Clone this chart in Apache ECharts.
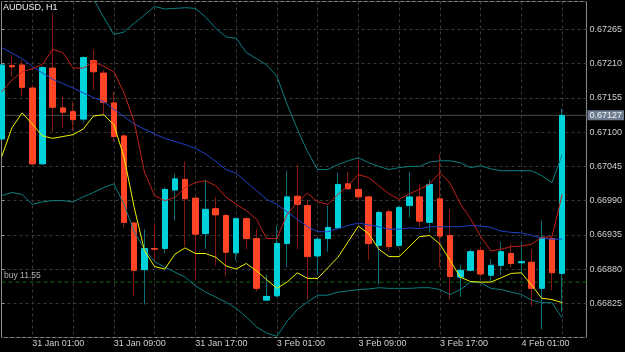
<!DOCTYPE html>
<html><head><meta charset="utf-8">
<script src="https://cdn.jsdelivr.net/npm/echarts@6/dist/echarts.min.js"></script>
<style>html,body{margin:0;padding:0;background:#000;}#c{width:625px;height:352px;}</style>
</head><body><div id="c"></div>
<script>
const symbolTitle = 'AUDUSD, H1';
const times = [
 '30 Jan 22:00','30 Jan 23:00','31 Jan 00:00','31 Jan 01:00','31 Jan 02:00','31 Jan 03:00','31 Jan 04:00','31 Jan 05:00',
 '31 Jan 06:00','31 Jan 07:00','31 Jan 08:00','31 Jan 09:00','31 Jan 10:00','31 Jan 11:00','31 Jan 12:00','31 Jan 13:00',
 '31 Jan 14:00','31 Jan 15:00','31 Jan 16:00','31 Jan 17:00','31 Jan 18:00','31 Jan 19:00','31 Jan 20:00','31 Jan 21:00',
 '31 Jan 22:00','31 Jan 23:00','3 Feb 00:00','3 Feb 01:00','3 Feb 02:00','3 Feb 03:00','3 Feb 04:00','3 Feb 05:00',
 '3 Feb 06:00','3 Feb 07:00','3 Feb 08:00','3 Feb 09:00','3 Feb 10:00','3 Feb 11:00','3 Feb 12:00','3 Feb 13:00',
 '3 Feb 14:00','3 Feb 15:00','3 Feb 16:00','3 Feb 17:00','3 Feb 18:00','3 Feb 19:00','3 Feb 20:00','3 Feb 21:00',
 '3 Feb 22:00','3 Feb 23:00','4 Feb 00:00','4 Feb 01:00','4 Feb 02:00','4 Feb 03:00','4 Feb 04:00','4 Feb 05:00'];
const open = [0.67089,0.67207,0.67208,0.67171,0.67049,0.67203,0.67139,0.67133,0.67121,0.67215,0.67195,0.67147,0.67094,0.66954,0.66879,0.66913,
 0.66913,0.67007,0.67024,0.66994,0.66937,0.66977,0.66966,0.66906,0.66961,0.66929,0.66830,0.66837,0.66921,0.66997,0.66982,0.66901,
 0.66929,0.66946,0.67017,0.67008,0.66996,0.66918,0.66972,0.66918,0.66982,0.66996,0.66955,0.66993,0.66934,0.66867,0.66878,0.66910,
 0.66870,0.66886,0.66905,0.66890,0.66891,0.66849,0.66929,0.66873];
const close = [0.67208,0.67205,0.67172,0.67049,0.67204,0.67140,0.67132,0.67120,0.67220,0.67197,0.67148,0.67093,0.66955,0.66878,0.66913,0.66912,
 0.67008,0.67025,0.66993,0.66936,0.66976,0.66967,0.66907,0.66961,0.66929,0.66849,0.66836,0.66921,0.66996,0.66984,0.66900,0.66928,
 0.66947,0.67016,0.67009,0.66996,0.66921,0.66971,0.66916,0.66979,0.66996,0.66957,0.67016,0.66933,0.66868,0.66878,0.66908,0.66872,
 0.66886,0.66908,0.66889,0.66892,0.66849,0.66931,0.66874,0.67127];
const high = [0.67210,0.67224,0.67216,0.67176,0.67206,0.67291,0.67157,0.67149,0.67222,0.67232,0.67200,0.67165,0.67097,0.66956,0.66944,0.66953,
 0.67011,0.67033,0.67053,0.66996,0.67024,0.66996,0.66969,0.66963,0.66963,0.66945,0.66871,0.66950,0.67038,0.67048,0.66992,0.66931,
 0.66982,0.67035,0.67036,0.67056,0.66998,0.66974,0.66976,0.66982,0.67036,0.67017,0.67024,0.67065,0.66976,0.66887,0.66912,0.66916,
 0.66896,0.66924,0.66921,0.66924,0.66912,0.66958,0.66931,0.67138];
const low = [0.67086,0.67189,0.67157,0.67048,0.67048,0.67101,0.67107,0.67102,0.67115,0.67168,0.67128,0.67085,0.66947,0.66837,0.66823,0.66892,
 0.66905,0.66958,0.66916,0.66863,0.66912,0.66886,0.66868,0.66894,0.66912,0.66844,0.66829,0.66835,0.66883,0.66912,0.66831,0.66871,
 0.66908,0.66944,0.67008,0.66992,0.66895,0.66855,0.66908,0.66915,0.66963,0.66947,0.66939,0.66883,0.66831,0.66835,0.66876,0.66868,
 0.66860,0.66870,0.66883,0.66871,0.66820,0.66783,0.66846,0.66811];
const bbUpper = [null,null,null,null,null,null,null,null,0.67331,0.67314,0.67285,0.67257,0.67261,0.67275,0.67288,0.67302,
 0.67298,0.67299,0.67300,0.67299,0.67285,0.67267,0.67253,0.67251,0.67228,0.67218,0.67208,0.67190,0.67145,0.67105,0.67069,0.67040,
 0.67040,0.67048,0.67054,0.67059,0.67051,0.67045,0.67040,0.67043,0.67045,0.67045,0.67052,0.67054,0.67054,0.67051,0.67043,0.67046,
 0.67041,0.67038,0.67038,0.67038,0.67038,0.67030,0.67019,0.67064];
const bbLower = [0.66998,0.67003,0.67000,0.66984,0.66988,0.66990,0.66990,0.66988,0.66996,0.67003,0.67011,0.67017,0.66984,0.66940,0.66912,0.66892,
 0.66883,0.66875,0.66867,0.66853,0.66843,0.66835,0.66827,0.66817,0.66803,0.66787,0.66777,0.66772,0.66796,0.66815,0.66827,0.66838,
 0.66838,0.66843,0.66845,0.66847,0.66848,0.66850,0.66849,0.66849,0.66849,0.66850,0.66850,0.66847,0.66839,0.66847,0.66859,0.66858,
 0.66849,0.66847,0.66843,0.66839,0.66830,0.66826,0.66826,0.66801];
const maBlue = [0.67236,0.67227,0.67218,0.67206,0.67195,0.67185,0.67178,0.67171,0.67163,0.67156,0.67149,0.67137,0.67125,0.67113,0.67105,0.67097,
 0.67090,0.67085,0.67080,0.67074,0.67065,0.67053,0.67040,0.67034,0.67020,0.67006,0.66992,0.66984,0.66972,0.66960,0.66948,0.66940,
 0.66940,0.66945,0.66950,0.66954,0.66951,0.66948,0.66944,0.66944,0.66946,0.66945,0.66948,0.66948,0.66948,0.66948,0.66950,0.66949,
 0.66947,0.66941,0.66939,0.66938,0.66934,0.66930,0.66928,0.66928];
const maRed = [0.67165,0.67184,0.67197,0.67202,0.67209,0.67233,0.67228,0.67203,0.67203,0.67213,0.67206,0.67197,0.67163,0.67117,0.67036,0.66998,
 0.66990,0.66995,0.67011,0.67019,0.67022,0.67014,0.66996,0.66984,0.66974,0.66960,0.66929,0.66929,0.66968,0.66987,0.67002,0.66988,
 0.66984,0.67000,0.67014,0.67032,0.67027,0.67014,0.67001,0.66992,0.67001,0.67008,0.67017,0.67035,0.67018,0.66985,0.66961,0.66932,
 0.66909,0.66912,0.66916,0.66917,0.66920,0.66931,0.66932,0.67000];
const maYellow = [0.67061,0.67107,0.67131,0.67113,0.67094,0.67090,0.67093,0.67096,0.67105,0.67126,0.67128,0.67112,0.67060,0.66979,0.66910,0.66884,
 0.66880,0.66904,0.66914,0.66905,0.66905,0.66899,0.66885,0.66880,0.66889,0.66877,0.66863,0.66849,0.66859,0.66874,0.66865,0.66865,
 0.66882,0.66899,0.66924,0.66949,0.66937,0.66912,0.66900,0.66900,0.66916,0.66932,0.66934,0.66920,0.66894,0.66867,0.66860,0.66859,
 0.66859,0.66866,0.66873,0.66874,0.66854,0.66833,0.66831,0.66826];
const priceAxis = {min: 0.6677, max: 0.6731, step: 0.00055};
const bidPrice = 0.67127;
const orderPrice = 0.66859;
const orderLabel = 'buy 11.55';

const FONT = "'Liberation Sans', Arial, sans-serif";
const cats = times.concat(['', '']);
const wickData = times.map((t, i) => [open[i], close[i], low[i], high[i]]);
const bodyData = times.map((t, i) => [open[i], close[i], Math.min(open[i], close[i]), Math.max(open[i], close[i])]);
const GRID = '#3a3a3a';
const chart = echarts.init(document.getElementById('c'), null, {renderer: 'canvas'});
function lineSeries(name, data, color) {
  return {name, type: 'line', xAxisIndex: 1, yAxisIndex: 1, data, symbol: 'none', showSymbol: false,
    lineStyle: {color, width: 1}, z: 5, silent: true, connectNulls: false};
}
chart.setOption({
  animation: false,
  backgroundColor: '#000',
  title: {text: symbolTitle, left: 3, top: 3, padding: 0, textStyle: {color: '#f2f2f2', fontSize: 9, fontWeight: 'normal', fontFamily: FONT}},
  grid: [
    {left: 1.5, top: 1.5, width: 586, height: 336, show: true, borderColor: '#8c8c8c', borderWidth: 1, backgroundColor: 'transparent'},
    {left: 1.74, top: 1.5, width: 580.83, height: 336, show: false}
  ],
  xAxis: [
    {gridIndex: 0, type: 'value', min: 0, max: 1, show: false},
    {gridIndex: 1, type: 'category', data: cats, boundaryGap: false,
      axisLine: {show: false}, axisTick: {show: false},
      axisLabel: {interval: (i) => i % 8 === 3, align: 'left', margin: 2, color: '#d0d0d0', fontSize: 9, fontFamily: FONT},
      splitLine: {show: true, interval: (i) => i % 4 === 3, lineStyle: {color: GRID, type: [3, 3], width: 1}}}
  ],
  yAxis: [
    {gridIndex: 0, type: 'value', position: 'right', min: priceAxis.min, max: priceAxis.max, interval: priceAxis.step,
      axisLine: {show: false}, axisTick: {show: true, length: 3, lineStyle: {color: '#9a9a9a'}},
      axisLabel: {margin: 3, color: '#d0d0d0', fontSize: 9, fontFamily: FONT, formatter: (v) => v.toFixed(5), showMinLabel: false, showMaxLabel: false},
      splitLine: {show: true, lineStyle: {color: GRID, type: [3, 3], width: 1}}},
    {gridIndex: 1, type: 'value', min: priceAxis.min, max: priceAxis.max, show: false, splitLine: {show: false}}
  ],
  series: [
    {name: 'bid', type: 'line', xAxisIndex: 0, yAxisIndex: 0, data: [[0, bidPrice], [1, bidPrice]], symbol: 'none', silent: true, z: 1,
      lineStyle: {color: '#4a4a4a', width: 1},
      endLabel: {show: true, formatter: () => bidPrice.toFixed(5), backgroundColor: '#6b7d8f', color: '#f2f2f2', fontSize: 9, fontFamily: FONT, padding: [1, 2, 0, 2], distance: 1}},
    {name: 'order', type: 'line', xAxisIndex: 0, yAxisIndex: 0, data: [[0, orderPrice], [1, orderPrice]], symbol: 'none', silent: true, z: 1,
      lineStyle: {color: '#0b6a0b', type: [4, 3], width: 1}},
    {name: 'orderLabel', type: 'scatter', xAxisIndex: 0, yAxisIndex: 0, data: [[0, orderPrice]], symbol: 'rect', symbolSize: 1, silent: true, z: 6,
      itemStyle: {color: 'rgba(0,0,0,0)'},
      label: {show: true, position: [3, -10], formatter: orderLabel, color: '#d8d8d8', fontSize: 8.5, fontFamily: FONT}},
    {name: 'wicks', type: 'candlestick', xAxisIndex: 1, yAxisIndex: 1, data: wickData, barWidth: 1, z: 3, silent: true,
      itemStyle: {color: '#087078', color0: '#8a1810', borderColor: '#087078', borderColor0: '#8a1810', borderWidth: 1}},
    {name: 'bodies', type: 'candlestick', xAxisIndex: 1, yAxisIndex: 1, data: bodyData, barWidth: 6, z: 4, silent: true,
      itemStyle: {color: '#00d2dc', color0: '#ff4526', borderColor: '#00d2dc', borderColor0: '#ff4526', borderWidth: 1}},
    lineSeries('bbUpper', bbUpper, '#0a7f80'),
    lineSeries('bbLower', bbLower, '#0a7f80'),
    lineSeries('maBlue', maBlue, '#2140c8'),
    lineSeries('maRed', maRed, '#c0201c'),
    lineSeries('maYellow', maYellow, '#f2f200')
  ]
});
</script></body></html>
